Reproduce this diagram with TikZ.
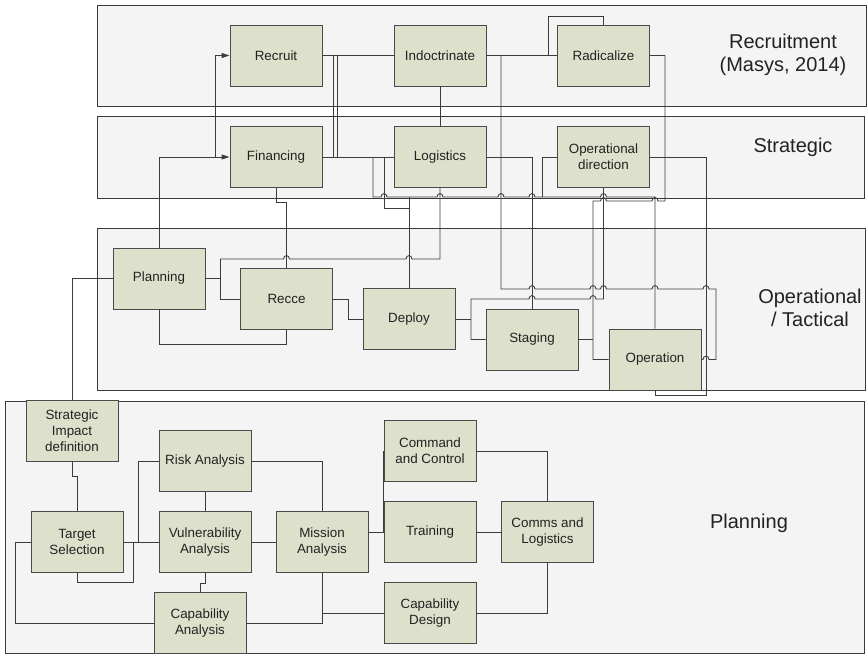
\documentclass[tikz,border=0pt]{standalone}
\usepackage{fontspec}
\setmainfont{Liberation Sans}
\usetikzlibrary{arrows.meta}
\definecolor{panelfill}{HTML}{F4F4F4}
\definecolor{panelline}{HTML}{3A3A3A}
\definecolor{boxfill}{HTML}{DDE1CB}
\definecolor{boxline}{HTML}{4A4A4A}
\definecolor{wire}{HTML}{3C3C3C}
\definecolor{txt}{HTML}{222222}
\begin{document}
\begin{tikzpicture}[x=1pt,y=-1pt,
  panel/.style={fill=panelfill,draw=panelline,line width=0.9pt},
  box/.style={draw=boxline,fill=boxfill,line width=0.9pt,minimum width=92pt,minimum height=61pt,
    inner sep=1pt,align=center,font=\fontsize{13.4}{16}\selectfont,text=txt},
  zone/.style={align=center,font=\fontsize{20}{23}\selectfont,text=txt},
  wires/.style={draw=wire,line width=0.9pt},
  arrowed/.style={-{Triangle[length=8pt,width=5pt]}},
  % small hump where a horizontal wire crosses a vertical one (left to right / right to left)
  jmp/.style 2 args={insert path={-- ({#1-3},#2) .. controls ({#1-3},{#2-4.5}) and ({#1+3},{#2-4.5}) .. ({#1+3},#2)}},
  jmpl/.style 2 args={insert path={-- ({#1+3},#2) .. controls ({#1+3},{#2-4.5}) and ({#1-3},{#2-4.5}) .. ({#1-3},#2)}}]
\path[use as bounding box] (0,0) rectangle (868,654);

% layers
\draw[panel] (97,5) rectangle (866,106);
\draw[panel] (97,116) rectangle (864,198);
\draw[panel] (97,228) rectangle (865,390);
\draw[panel] (5,401) rectangle (864,653);

\node[zone] (zrec) at (783,55) {Recruitment\\(Masys, 2014)};
\node[zone] (zstr) at (793,147) {Strategic};
\node[zone] (zops) at (810,308) {Operational\\/ Tactical};
\node[zone] (zpln) at (749,523) {Planning};

% boxes
\node[box] (rec) at (276,55.5) {Recruit};
\node[box] (ind) at (440,55.5) {Indoctrinate};
\node[box] (rad) at (603.5,55.5) {Radicalize};
\node[box] (fin) at (276,157) {Financing};
\node[box] (log) at (440,157) {Logistics};
\node[box] (opd) at (603.5,157) {Operational\\direction};
\node[box] (pln) at (159,278.5) {Planning};
\node[box] (rcc) at (286.5,299) {Recce};
\node[box] (dep) at (409,319) {Deploy};
\node[box] (stg) at (532,339.5) {Staging};
\node[box] (opr) at (655,359.5) {Operation};
\node[box] (sid) at (72,431) {Strategic\\Impact\\definition};
\node[box] (rsk) at (205,461) {Risk Analysis};
\node[box] (tgt) at (77,542) {Target\\Selection};
\node[box] (vul) at (205,542) {Vulnerability\\Analysis};
\node[box] (mis) at (322,542) {Mission\\Analysis};
\node[box] (cap) at (200,623) {Capability\\Analysis};
\node[box] (cc) at (430,451) {Command\\and Control};
\node[box] (trn) at (430,532) {Training};
\node[box] (cml) at (547.5,532) {Comms and\\Logistics};
\node[box] (cd) at (430,613) {Capability\\Design};

% recruitment and strategic wiring
\begin{scope}[wires]
\draw[arrowed] (pln.north) |- (fin.west);
\draw[arrowed] (215,157) |- (rec.west);
\draw (rec.east) -- (ind.west);
\draw (333,55.5) -- (333,157);
\draw (337,55.5) -- (337,157);
\draw (fin.east) -- (log.west);
\draw (ind.south) -- (log.north);
\draw (ind.east) -- (rad.west);
\draw (548,55.5) |- (603.5,16) -- (rad.north);
\draw (fin.south) -- (276,202) -| (rcc.north);
\draw (384,157) -- (384,208) -- (409,208);
\draw (dep.north) -- (409,197);
\draw (log.east) -- (532,157) -- (stg.north);
\draw (opd.west) -- (542,157) -- (542,197);
\draw (373,157) -- (373,197) [jmp={384}{197}] [jmp={440}{197}] [jmp={501}{197}]
  [jmp={532}{197}] [jmp={603.5}{197}] -- (655,197) -- (opr.north);
\draw (rad.east) -- (665,55.5) -- (665,201) [jmpl={655}{201}] [jmpl={603.5}{201}]
  -- (593,201) |- (opr.west);
\draw (501,55.5) -- (501,289) [jmp={532}{289}] [jmp={593}{289}] [jmp={603.5}{289}]
  [jmp={655}{289}] [jmp={706}{289}] -- (716,289) -- (716,359.5) [jmpl={706}{359.5}] -- (opr.east);
\draw (opd.east) -- (706,157) -- (706,395) -- (655,395) -- (opr.south);

% operational wiring
\draw (pln.east) -- (220,278.5);
\draw (220,259) |- (rcc.west);
\draw (220,259) [jmp={286.5}{259}] [jmp={409}{259}] -- (440,259) -- (log.south);
\draw (pln.south) |- (286.5,344) -- (rcc.south);
\draw (rcc.east) -- (348,299) |- (dep.west);
\draw (dep.east) -- (471,319);
\draw (stg.west) -| (471,299) [jmp={532}{299}] [jmp={593}{299}] -- (603.5,299) -- (opd.south);
\draw (stg.east) -- (593,339.5);

% planning wiring
\draw (sid.north) |- (pln.west);
\draw (sid.south) -- (72,476) -- (77,476) -- (tgt.north);
\draw (tgt.east) -- (vul.west);
\draw (133,542) -- (133,582) -- (77,582) -- (tgt.south);
\draw (138,542) |- (rsk.west);
\draw (rsk.south) -- (vul.north);
\draw (rsk.east) -| (mis.north);
\draw (vul.east) -- (mis.west);
\draw (vul.south) -- (205,583) -- (200,583) -- (cap.north);
\draw (tgt.west) -- (15,542) |- (cap.west);
\draw (mis.south) |- (cap.east);
\draw (322,613) -- (cd.west);
\draw (368,532) -- (trn.west);
\draw (383,532) |- (cc.west);
\draw (cc.east) -| (cml.north);
\draw (trn.east) -- (cml.west);
\draw (cd.east) -| (cml.south);
\end{scope}
\end{tikzpicture}
\end{document}
